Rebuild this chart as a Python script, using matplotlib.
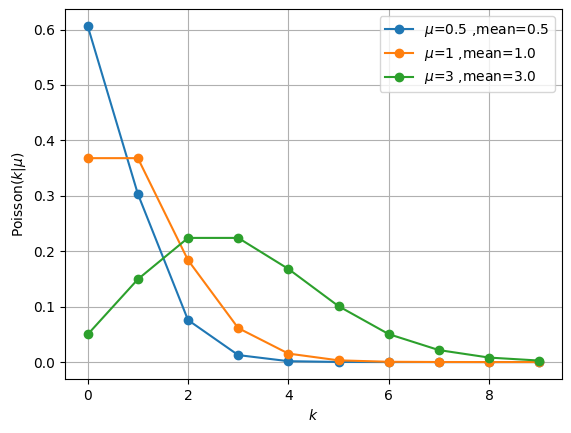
import matplotlib
matplotlib.use("Agg")
import matplotlib.pyplot as plt

k = [0, 1, 2, 3, 4, 5, 6, 7, 8, 9]
mus = [0.5, 1, 3]
means = [0.5, 1.0, 3.0]
p_05 = [0.6065, 0.3033, 0.0758, 0.0126, 0.0016, 0.0002, 0.0000, 0.0000, 0.0000, 0.0000]
p_1 = [0.3679, 0.3679, 0.1839, 0.0613, 0.0153, 0.0031, 0.0005, 0.0001, 0.0000, 0.0000]
p_3 = [0.0498, 0.1494, 0.2240, 0.2240, 0.1680, 0.1008, 0.0504, 0.0216, 0.0081, 0.0027]
series = [p_05, p_1, p_3]

fig = plt.figure(figsize=(5.71, 4.33), dpi=100)
ax = fig.add_axes([0.114, 0.125, 0.870, 0.854])
for mu, m, p in zip(mus, means, series):
    ax.plot(k, p, marker='o', label=r'$\mu$=%s ,mean=%s' % (mu, m))
ax.set_xlabel(r'$k$')
ax.set_ylabel(r'Poisson$(k|\mu)$')
ax.grid(True)
ax.legend()
fig.savefig('out.png', dpi=100)
